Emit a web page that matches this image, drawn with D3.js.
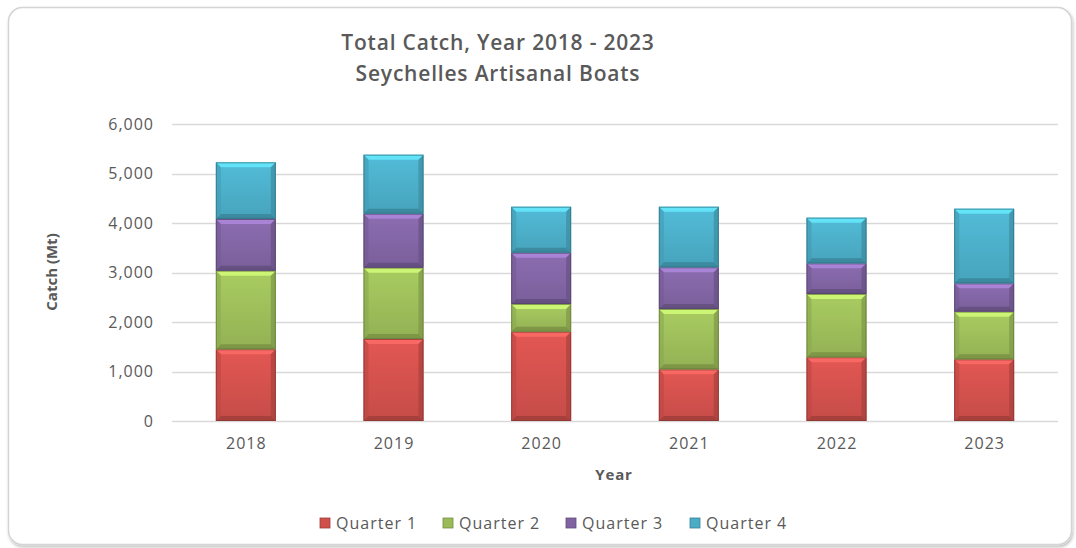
<!DOCTYPE html>
<html><head><meta charset="utf-8">
<script src="https://cdn.jsdelivr.net/npm/d3@7"></script>
<style>
html,body{margin:0;padding:0;background:#fff;}
svg{display:block;}
text{font-family:"Open Sans","Noto Sans",sans-serif;}
</style></head>
<body>
<svg id="chart" width="1076" height="548"></svg>
<script>
const years = ["2018","2019","2020","2021","2022","2023"];
const seriesNames = ["Quarter 1","Quarter 2","Quarter 3","Quarter 4"];
const q1 = [1449,1657,1804,1044,1287,1246];
const q2 = [1587,1440,560,1219,1279,963];
const q3 = [1045,1091,1036,842,619,572];
const q4 = [1145,1192,929,1224,923,1508];
const yTicks = [0,1000,2000,3000,4000,5000,6000];
const colors = ["#d0504c","#9bbb59","#8064a2","#4bacc6"];

const svg = d3.select("#chart");
const W = 1076, H = 548;
const m = {left:172, right:1076-1058, top:124, bottom:548-421};

// frame
const defs = svg.append("defs");
const sh = defs.append("filter").attr("id","shadow").attr("x","-5%").attr("y","-5%").attr("width","110%").attr("height","110%");
sh.append("feDropShadow").attr("dx",1).attr("dy",2).attr("stdDeviation",1.5).attr("flood-color","#000").attr("flood-opacity",0.25);
svg.append("rect").attr("x",8.5).attr("y",7.5).attr("width",1063).attr("height",537)
  .attr("rx",14).attr("fill","#fff").attr("stroke","#d4d4d4").attr("stroke-width",1.5).attr("filter","url(#shadow)");

const x = d3.scaleBand().domain(years).range([m.left, W-m.right]).paddingInner(0.594).paddingOuter(0.297);
const y = d3.scaleLinear().domain([0,6000]).range([H-m.bottom, m.top]);

// gridlines
svg.append("g").selectAll("line").data(yTicks).join("line")
  .attr("x1",m.left).attr("x2",W-m.right)
  .attr("y1",d=>Math.round(y(d))+0.5).attr("y2",d=>Math.round(y(d))+0.5)
  .attr("stroke","#d9d9d9").attr("stroke-width",1.5);

// y axis labels
const yAxis = d3.axisLeft(y).tickValues(yTicks).tickFormat(d3.format(",")).tickSize(0).tickPadding(18);
const gy = svg.append("g").attr("transform",`translate(${m.left},0)`).call(yAxis);
gy.select(".domain").remove();
gy.selectAll("text").attr("font-size",16).attr("fill","#595959").attr("font-family","Open Sans").attr("letter-spacing","1px");

// x axis labels
const xAxis = d3.axisBottom(x).tickSize(0).tickPadding(17);
const gx = svg.append("g").attr("transform",`translate(0,${H-m.bottom})`).call(xAxis);
gx.select(".domain").remove();
gx.selectAll("text").attr("font-size",16).attr("fill","#595959").attr("font-family","Open Sans").attr("letter-spacing","1px").attr("dx","0.5");

// stacked data
const rows = years.map((yr,i)=>({year:yr, "Quarter 1":q1[i], "Quarter 2":q2[i], "Quarter 3":q3[i], "Quarter 4":q4[i]}));
const stack = d3.stack().keys(seriesNames)(rows);

// gradients
colors.forEach((c,i)=>{
  const g = defs.append("linearGradient").attr("id","g"+i).attr("x1",0).attr("x2",0).attr("y1",0).attr("y2",1);
  g.append("stop").attr("offset","0%").attr("stop-color",d3.color(c).brighter(0.25));
  g.append("stop").attr("offset","100%").attr("stop-color",d3.color(c).darker(0.15));
});

const bw = x.bandwidth();
const bv = 5;
stack.forEach((s,si)=>{
  const c = colors[si];
  const g = svg.append("g");
  s.forEach(d=>{
    const x0 = x(d.data.year), x1 = x0+bw;
    const yt = y(d[1]), yb = y(d[0]);
    const h = yb-yt;
    const b = Math.min(bv, h/2);
    const seg = g.append("g");
    seg.append("rect").attr("x",x0).attr("y",yt).attr("width",bw).attr("height",h).attr("fill",`url(#g${si})`);
    seg.append("path").attr("d",`M${x0},${yt}L${x1},${yt}L${x1-b},${yt+b}L${x0+b},${yt+b}Z`).attr("fill",d3.color(c).brighter(0.9)).attr("opacity",0.8);
    seg.append("path").attr("d",`M${x0},${yb}L${x1},${yb}L${x1-b},${yb-b}L${x0+b},${yb-b}Z`).attr("fill",d3.color(c).darker(0.8)).attr("opacity",0.75);
    seg.append("path").attr("d",`M${x0},${yt}L${x0+b},${yt+b}L${x0+b},${yb-b}L${x0},${yb}Z`).attr("fill",d3.color(c).darker(0.3)).attr("opacity",0.6);
    seg.append("path").attr("d",`M${x1},${yt}L${x1-b},${yt+b}L${x1-b},${yb-b}L${x1},${yb}Z`).attr("fill",d3.color(c).darker(0.6)).attr("opacity",0.7);
    seg.append("rect").attr("x",x0+0.5).attr("y",yt+0.5).attr("width",bw-1).attr("height",h-1).attr("fill","none").attr("stroke",d3.color(c).darker(1.2)).attr("stroke-width",1).attr("opacity",0.7);
  });
});

// titles
const tt = {size:21, ls:"0.8px"};
svg.append("text").attr("x",498).attr("y",50).attr("text-anchor","middle").attr("font-size",tt.size).attr("font-weight",600).attr("letter-spacing",tt.ls).attr("fill","#595959").text("Total Catch, Year 2018 - 2023");
svg.append("text").attr("x",498).attr("y",81).attr("text-anchor","middle").attr("font-size",tt.size).attr("font-weight",600).attr("letter-spacing",tt.ls).attr("fill","#595959").text("Seychelles Artisanal Boats");
svg.append("text").attr("x",614).attr("y",480).attr("text-anchor","middle").attr("font-size",15).attr("font-weight","bold").attr("letter-spacing","0.8px").attr("fill","#595959").text("Year");
svg.append("text").attr("transform","translate(57,272) rotate(-90)").attr("text-anchor","middle").attr("font-size",15).attr("font-weight","bold").attr("fill","#595959").text("Catch (Mt)");

// legend
const legX = [320,443,566,690];
const leg = svg.append("g");
seriesNames.forEach((n,i)=>{
  const gg = leg.append("g").attr("transform",`translate(${legX[i]},518)`);
  gg.append("rect").attr("width",10).attr("height",10).attr("fill",colors[i]).attr("stroke",d3.color(colors[i]).darker(0.8)).attr("stroke-width",0.8);
  gg.append("text").attr("x",16).attr("y",11).attr("font-size",16).attr("letter-spacing","1px").attr("fill","#595959").text(n);
});
</script>
</body></html>
